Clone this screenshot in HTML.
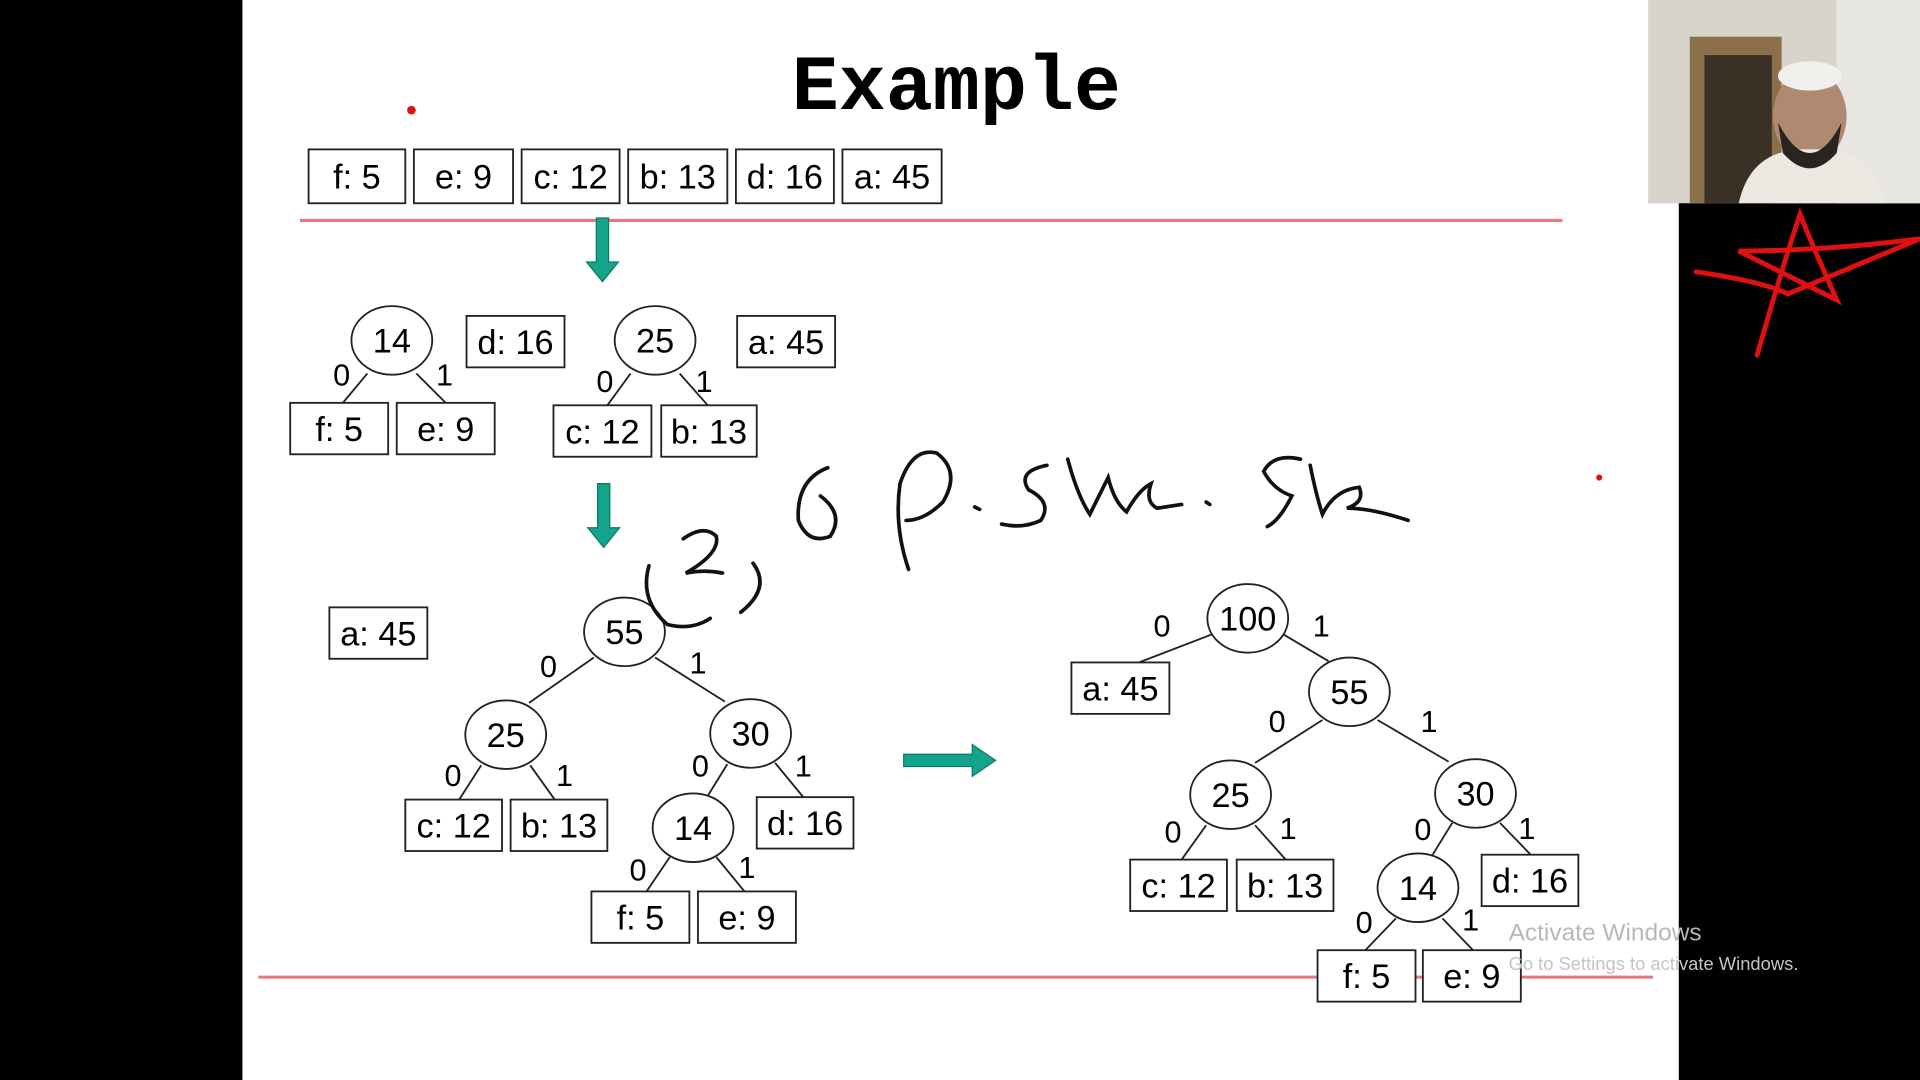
<!DOCTYPE html>
<html><head><meta charset="utf-8"><style>
html,body{margin:0;padding:0;background:#000;width:1920px;height:1080px;overflow:hidden}
svg{display:block}
text{font-family:"Liberation Sans",sans-serif}
</style></head><body>
<svg id="s" width="1920" height="1080" viewBox="0 0 1568 882">
<rect x="0" y="0" width="1568" height="882" fill="#000"/>
<rect x="198" y="0" width="1173" height="882" fill="#fff"/>
<g>
<rect x="1346" y="0" width="222" height="166" fill="#d8d4cc"/>
<rect x="1380" y="30" width="75" height="136" fill="#8a7048"/>
<rect x="1392" y="45" width="55" height="121" fill="#3a3026"/>
<rect x="1500" y="0" width="68" height="166" fill="#e8e6e2"/>
<ellipse cx="1478" cy="95" rx="30" ry="38" fill="#b08a70"/>
<path d="M1420 166 Q1430 120 1478 122 Q1530 120 1540 166Z" fill="#ece8e2"/>
<ellipse cx="1478" cy="62" rx="26" ry="12" fill="#f2f0ec"/>
<path d="M1452 100 Q1478 150 1504 100 L1500 125 Q1478 150 1456 125Z" fill="#2a2420"/>
</g>
<text x="781" y="89" text-anchor="middle" font-size="64" font-weight="bold" style="font-family:'Liberation Mono',monospace">Example</text>
<line x1="245" y1="180" x2="1276" y2="180" stroke="#e87878" stroke-width="2.5"/>
<line x1="211" y1="798" x2="1350" y2="798" stroke="#e87878" stroke-width="2.5"/>
<g id="g"></g>
<g fill="none" stroke="#111" stroke-width="3" stroke-linecap="round">
<path d="M530 462 Q522 490 545 510 Q565 515 580 505"/>
<path d="M558 440 Q575 428 585 438 Q588 452 560 468 Q575 465 590 468"/>
<path d="M615 460 Q630 480 605 500"/>
<path d="M676 382 Q650 392 652 425 Q660 445 678 438 Q690 420 670 405"/>
<path d="M742 465 Q730 430 735 395 Q745 365 765 370 Q785 385 770 410 Q755 425 740 425"/>
<path d="M796 414 L800 416"/>
<path d="M855 380 Q830 385 840 400 Q860 410 850 425 Q835 432 818 428"/>
<path d="M872 375 Q880 405 890 420 Q900 400 905 390 Q910 410 920 418 Q930 400 940 395 Q935 410 945 415 L965 412"/>
<path d="M985 410 L988 412"/>
<path d="M1062 375 Q1040 370 1032 385 Q1040 400 1055 405 Q1045 425 1035 430"/>
<path d="M1070 380 Q1075 405 1080 420 Q1090 400 1110 398 Q1115 410 1100 415 Q1120 415 1150 425"/>
</g>
<g fill="none" stroke="#e01010" stroke-width="4" stroke-linecap="round">
<path d="M1435 290 Q1455 220 1470 175 Q1480 200 1500 245 Q1460 225 1420 205 Q1490 205 1568 195 Q1520 215 1460 240 Q1440 230 1385 222"/>
</g>
<circle cx="336" cy="90" r="3.5" fill="#e01010"/>
<circle cx="1306" cy="390" r="2.5" fill="#e01010"/>
<text x="1232" y="768" font-size="20" fill="#b8b8b8">Activate Windows</text>
<text x="1232" y="792" font-size="15" fill="#c4c4c4">Go to Settings to activate Windows.</text>
</svg>
<script>
var NS="http://www.w3.org/2000/svg";
var g=document.getElementById('g');
var boxes=[[252,122,79,44,"f: 5"],[338,122,81,44,"e: 9"],[426,122,80,44,"c: 12"],[513,122,81,44,"b: 13"],[601,122,80,44,"d: 16"],[688,122,81,44,"a: 45"],
[237,329,80,42,"f: 5"],[324,329,80,42,"e: 9"],[381,258,80,42,"d: 16"],[452,331,80,42,"c: 12"],[540,331,78,42,"b: 13"],[602,258,80,42,"a: 45"],
[269,496,80,42,"a: 45"],[331,653,79,42,"c: 12"],[417,653,79,42,"b: 13"],[618,651,79,42,"d: 16"],[483,728,80,42,"f: 5"],[570,728,80,42,"e: 9"],
[875,541,80,42,"a: 45"],[923,702,79,42,"c: 12"],[1010,702,79,42,"b: 13"],[1210,698,79,42,"d: 16"],[1076,776,80,42,"f: 5"],[1162,776,80,42,"e: 9"]];
var nodes=[[320,278,"14"],[535,278,"25"],[510,516,"55"],[413,600,"25"],[613,599,"30"],[566,676,"14"],
[1019,505,"100"],[1102,565,"55"],[1005,649,"25"],[1205,648,"30"],[1158,725,"14"]];
var edges=[[300,305,280,329],[340,305,364,329],[515,305,496,331],[555,305,578,331],
[485,537,432,574],[535,537,592,573],[393,625,375,653],[433,625,453,653],[594,624,578,650],[633,623,656,651],[547,700,528,728],[585,700,608,728],
[990,518,930,541],[1048,518,1085,540],[1080,588,1025,623],[1125,588,1183,622],[985,674,965,702],[1025,674,1050,702],[1186,672,1170,698],[1225,672,1250,698],[1140,750,1115,776],[1178,750,1203,776]];
var labels=[[279,315,"0"],[363,315,"1"],[494,320,"0"],[575,320,"1"],[448,553,"0"],[570,550,"1"],[370,642,"0"],[461,642,"1"],[572,634,"0"],[656,634,"1"],[521,719,"0"],[610,717,"1"],
[949,520,"0"],[1079,520,"1"],[1043,598,"0"],[1167,598,"1"],[958,688,"0"],[1052,685,"1"],[1162,686,"0"],[1247,685,"1"],[1114,762,"0"],[1201,760,"1"]];
function mk(t,a){var e=document.createElementNS(NS,t);for(var k in a)e.setAttribute(k,a[k]);g.appendChild(e);return e;}
edges.forEach(function(d){var e=mk('line',{x1:d[0],y1:d[1],x2:d[2],y2:d[3],stroke:'#222','stroke-width':1.5});

});
boxes.forEach(function(b){var r=mk('rect',{x:b[0],y:b[1],width:b[2],height:b[3],fill:'#fff',stroke:'#222','stroke-width':1.5});


var t=mk('text',{x:b[0]+b[2]/2,y:b[1]+b[3]/2+10,'text-anchor':'middle','font-size':28});t.textContent=b[4];

});
nodes.forEach(function(n){var c=mk('ellipse',{cx:n[0],cy:n[1],rx:33,ry:28,fill:'#fff',stroke:'#222','stroke-width':1.5});


var t=mk('text',{x:n[0],y:n[1]+10,'text-anchor':'middle','font-size':28});t.textContent=n[2];

});
labels.forEach(function(l){var t=mk('text',{x:l[0],y:l[1],'text-anchor':'middle','font-size':25});t.textContent=l[2];

});
var arrows=[[492,178,230],[493,395,447]];
arrows.forEach(function(a){var p=mk('path',{d:'M'+(a[0]-5)+' '+a[1]+'h10v'+(a[2]-a[1]-16)+'h8l-13 16l-13 -16h8z',fill:'#14a38b',stroke:'#0b7a66','stroke-width':1});

});
var ra=mk('path',{d:'M738 616h56v-8l19 13l-19 13v-8h-56z',fill:'#14a38b',stroke:'#0b7a66','stroke-width':1});


</script>
</body></html>
